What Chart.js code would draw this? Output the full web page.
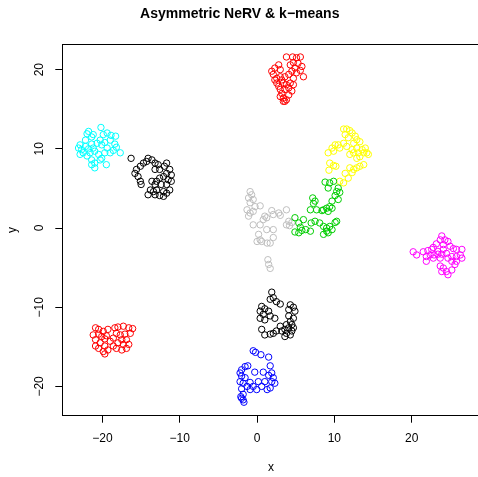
<!DOCTYPE html>
<html>
<head>
<meta charset="utf-8">
<script src="https://cdn.jsdelivr.net/npm/chart.js@4.4.1/dist/chart.umd.min.js"></script>
<style>
  html, body { margin: 0; padding: 0; overflow: hidden; background: #fff; }
  canvas { display: block; }
</style>
</head>
<body>
<canvas id="myChart" width="541" height="477"></canvas>
<script>
// tick labels on both axes
const xTicks = [-20, -10, 0, 10, 20];
const yTicks = [-20, -10, 0, 10, 20];

// k-means clusters, [x, y]
const blackTop = [[-16.3,8.8],[-14.1,8.8],[-13.6,8.6],[-14.3,8.4],[-14.7,8.2],[-13.2,8.2],[-15.1,7.8],[-15.6,7.4],[-15.8,6.9],[-15.4,6.5],[-15.1,5.9],[-15.0,5.5],[-12.8,8.0],[-11.7,8.2],[-12.0,7.8],[-12.6,7.4],[-13.2,7.4],[-11.3,7.4],[-11.7,6.9],[-11.1,6.7],[-12.1,6.5],[-11.5,6.1],[-11.1,5.9],[-12.6,6.3],[-13.6,5.9],[-13.0,5.9],[-13.2,5.5],[-12.4,5.5],[-11.7,5.5],[-11.3,4.8],[-13.8,4.8],[-13.4,4.6],[-13.0,4.8],[-12.1,4.6],[-14.1,4.2],[-13.2,4.2],[-12.6,4.1],[-11.7,4.4],[-12.1,4.0]];
const redTop = [[3.8,21.6],[4.6,21.6],[5.1,21.5],[5.6,21.6],[4.7,20.9],[5.3,20.8],[4.3,20.6],[5.8,20.4],[4.9,20.2],[5.6,19.9],[6.0,19.1],[5.1,19.6],[4.5,19.8],[4.1,19.4],[4.7,18.9],[4.3,18.3],[4.7,18.1],[3.8,18.1],[3.6,17.5],[4.5,17.3],[4.1,16.8],[3.8,16.2],[3.6,16.0],[3.4,16.4],[3.2,17.0],[3.0,17.5],[2.8,17.9],[2.55,18.3],[2.3,18.7],[2.1,19.4],[1.9,19.8],[2.3,20.2],[2.8,20.6],[3.0,20.0],[3.2,18.7],[3.4,18.3],[3.0,19.1],[2.55,18.9],[3.6,19.1],[4.1,17.7],[3.0,16.6],[3.4,16.0]];
const greenPts = [[8.8,5.8],[9.4,5.7],[9.9,5.9],[9.2,5.05],[10.5,5.05],[10.7,4.5],[10.3,4.6],[10.1,4.1],[10.5,3.6],[9.7,3.4],[9.4,2.7],[9.0,2.5],[8.6,2.3],[9.2,2.1],[9.7,2.5],[7.2,3.8],[7.5,3.4],[7.3,3.1],[6.9,2.3],[7.7,2.3],[8.4,2.2],[4.9,1.3],[5.4,0.64],[5.6,0.1],[5.8,-0.3],[6.3,-0.2],[6.9,-0.4],[7.0,0.64],[7.5,0.85],[8.1,0.64],[8.6,0.2],[9.0,0.0],[9.4,0.2],[10.1,0.7],[10.3,0.85],[9.7,-0.2],[9.2,-0.6],[8.6,-0.8],[9.0,-0.4],[5.4,-0.6],[4.9,-0.5],[6.0,1.06]];
const bluePts = [[-0.5,-15.5],[-0.2,-15.7],[0.5,-16.0],[1.5,-16.3],[1.7,-17.4],[-1.2,-17.4],[-1.55,-17.5],[-2.0,-17.9],[-2.2,-18.3],[-0.3,-18.2],[0.8,-18.2],[1.9,-18.3],[1.5,-18.6],[-2.0,-18.7],[-1.55,-18.9],[2.1,-18.9],[-2.2,-19.4],[-1.8,-19.6],[-0.9,-19.5],[0.17,-19.4],[1.0,-19.4],[1.9,-19.4],[2.3,-19.6],[-1.3,-20.0],[-0.5,-20.0],[0.6,-20.0],[1.3,-20.4],[1.7,-20.2],[-0.05,-20.4],[-0.9,-20.4],[-2.0,-20.3],[-1.8,-21.0],[-2.0,-21.5],[-1.8,-21.7],[-1.7,-22.0],[-2.1,-21.3]];
const cyanPts = [[-20.2,12.7],[-21.8,12.2],[-21.2,11.8],[-21.4,11.5],[-22.0,11.9],[-19.4,12.0],[-18.9,11.7],[-18.3,11.6],[-19.9,11.8],[-20.3,11.1],[-19.7,10.8],[-19.0,11.1],[-18.4,10.6],[-18.2,10.2],[-17.7,9.5],[-18.6,9.8],[-19.4,10.1],[-20.1,10.5],[-20.7,10.7],[-21.4,10.6],[-22.2,11.1],[-22.9,10.5],[-23.1,10.1],[-22.7,9.9],[-22.2,10.3],[-21.8,10.0],[-21.2,10.1],[-21.0,9.7],[-21.6,9.5],[-22.5,9.5],[-22.9,9.3],[-22.0,9.1],[-21.4,8.6],[-21.0,8.2],[-21.4,8.0],[-21.0,7.6],[-20.1,8.8],[-19.5,8.0],[-19.7,9.5],[-19.0,9.5],[-20.5,9.3],[-20.3,8.6]];
const magentaPts = [[23.9,-1.0],[23.7,-1.5],[24.3,-1.5],[24.7,-1.7],[23.2,-2.0],[24.1,-2.1],[24.97,-2.3],[25.4,-2.6],[25.8,-2.7],[26.5,-2.7],[22.8,-2.45],[22.6,-2.7],[22.1,-2.85],[21.5,-3.0],[20.2,-3.0],[20.65,-3.4],[21.9,-3.6],[22.4,-3.4],[22.9,-3.4],[23.4,-3.3],[23.9,-3.3],[24.5,-3.2],[25.2,-3.6],[25.8,-3.6],[26.5,-3.8],[26.3,-3.4],[21.9,-4.2],[22.8,-3.8],[23.7,-3.8],[24.7,-3.8],[25.2,-4.2],[25.8,-4.2],[25.6,-4.6],[23.7,-4.8],[24.1,-5.05],[23.9,-5.5],[24.5,-5.5],[24.7,-5.9],[25.2,-5.3],[23.4,-2.95],[24.1,-2.7]];
const yellowPts = [[11.2,12.5],[11.6,12.5],[12.0,12.3],[11.4,11.8],[12.3,12.0],[12.7,11.6],[11.8,11.4],[12.9,11.15],[13.3,10.9],[12.5,10.7],[11.2,10.7],[10.5,10.5],[10.1,10.5],[9.7,10.1],[9.2,9.5],[9.9,9.7],[10.7,10.1],[11.6,10.3],[12.3,9.9],[12.9,10.1],[13.6,9.9],[14.0,10.1],[14.2,9.5],[14.4,9.3],[13.8,9.5],[13.1,9.5],[12.5,9.5],[12.0,9.3],[12.9,8.8],[13.3,9.0],[13.8,8.0],[13.3,7.8],[12.9,7.6],[12.5,7.4],[12.0,7.6],[12.3,7.0],[11.4,6.9],[11.8,6.3],[11.2,5.7],[10.7,5.9],[9.4,8.2],[9.9,7.9],[9.3,7.3],[10.2,7.8]];
const grayPts = [[-0.9,4.6],[-0.7,4.2],[-1.1,3.8],[-0.5,3.6],[-0.9,3.2],[-0.26,2.7],[-1.3,2.3],[-0.9,1.9],[-0.5,2.1],[-1.1,1.5],[0.4,2.8],[1.0,1.5],[0.8,1.06],[1.25,1.3],[1.9,2.2],[2.1,1.7],[2.8,1.9],[3.0,1.6],[3.8,2.3],[4.1,0.85],[3.8,0.4],[4.5,0.7],[-0.5,0.4],[0.4,0.4],[1.25,-0.2],[2.1,-0.2],[0.2,-0.8],[0.4,-1.5],[0.0,-1.7],[0.6,-1.7],[1.3,-1.9],[1.7,-1.9],[2.1,-1.2],[4.2,0.3],[1.4,-4.0],[1.5,-4.6],[1.7,-5.1]];
const blackLow = [[1.9,-8.1],[2.1,-8.8],[1.7,-9.0],[2.5,-9.3],[3.0,-9.6],[4.3,-9.7],[4.7,-10.0],[4.1,-10.3],[4.9,-10.5],[0.6,-9.9],[1.0,-10.2],[0.4,-10.5],[1.5,-10.5],[0.8,-10.9],[1.7,-11.1],[0.4,-11.4],[1.0,-11.6],[2.3,-11.4],[4.1,-11.1],[4.7,-11.4],[4.3,-11.8],[3.8,-12.2],[4.5,-12.2],[4.1,-12.6],[4.7,-12.6],[3.6,-12.8],[3.2,-13.0],[2.5,-13.0],[2.1,-13.3],[1.7,-13.4],[1.0,-13.5],[0.6,-12.8],[3.8,-13.3],[4.3,-13.5],[3.6,-13.7],[4.5,-13.0],[3.0,-12.4]];
const redLow = [[-20.9,-12.6],[-20.5,-12.8],[-19.9,-13.05],[-19.3,-12.8],[-18.4,-12.6],[-18.0,-12.5],[-17.3,-12.4],[-16.6,-12.6],[-16.1,-12.7],[-21.2,-13.5],[-20.5,-13.4],[-20.1,-13.7],[-19.5,-13.6],[-18.2,-13.3],[-17.7,-13.5],[-17.1,-13.4],[-16.4,-13.3],[-20.9,-14.1],[-19.7,-14.0],[-18.6,-13.9],[-17.5,-14.1],[-16.9,-14.1],[-20.3,-14.5],[-19.0,-14.3],[-18.0,-14.5],[-17.3,-14.7],[-16.6,-14.7],[-20.9,-14.9],[-19.7,-14.9],[-18.6,-14.9],[-19.9,-15.6],[-19.3,-15.4],[-18.2,-15.2],[-17.5,-15.4],[-16.9,-15.2],[-20.5,-15.2],[-19.7,-15.9]];

const clusters = [blackTop, redTop, greenPts, bluePts, cyanPts, magentaPts, yellowPts, grayPts, blackLow, redLow];
const clusterColors = ['#000000', '#FF0000', '#00CD00', '#0000FF', '#00FFFF', '#FF00FF', '#FFFF00', '#BEBEBE', '#000000', '#FF0000'];

const font = 'Liberation Sans, Arial, Helvetica, sans-serif';
const minus = v => String(v).replace('-', '\u2212');

// R style box around the plot region
const boxPlugin = {
  id: 'box',
  beforeDatasetsDraw(chart) {
    const a = chart.chartArea;
    const c = chart.ctx;
    c.save();
    c.strokeStyle = '#000';
    c.lineWidth = 1;
    c.strokeRect(Math.round(a.left) + 0.5, Math.round(a.top) + 0.5, Math.round(a.right - a.left), Math.round(a.bottom - a.top));
    c.restore();
  }
};

new Chart(document.getElementById('myChart'), {
  type: 'scatter',
  data: {
    datasets: clusters.map((pts, i) => ({
      data: pts.map(p => ({ x: p[0], y: p[1] })),
      borderColor: clusterColors[i],
      backgroundColor: 'rgba(0,0,0,0)',
      pointRadius: 3.2,
      borderWidth: 1
    }))
  },
  options: {
    responsive: false,
    animation: false,
    layout: { padding: { left: 0, right: 61.5, top: 0, bottom: 0 } },
    plugins: {
      legend: { display: false },
      tooltip: { enabled: false },
      title: {
        display: true,
        text: 'Asymmetric NeRV & k\u2212means',
        color: '#000',
        font: { family: font, size: 14, weight: 'bold' },
        padding: { top: 6, bottom: 21.5 }
      }
    },
    scales: {
      x: {
        type: 'linear',
        min: -25.2,
        max: 28.78,
        afterBuildTicks: s => { s.ticks = xTicks.map(v => ({ value: v })); },
        afterFit: s => { s.height = 61.3; },
        grid: { drawOnChartArea: false, drawTicks: true, tickLength: 7, color: '#000' },
        border: { display: false },
        ticks: { color: '#000', font: { family: font, size: 12 }, padding: 9, maxRotation: 0, callback: minus },
        title: { display: true, text: 'x', color: '#000', font: { family: font, size: 12 }, padding: { top: 0, bottom: 2 } }
      },
      y: {
        type: 'linear',
        min: -23.7,
        max: 23.2,
        afterBuildTicks: s => { s.ticks = yTicks.map(v => ({ value: v })); },
        afterFit: s => { s.width = 62.3; },
        grid: { drawOnChartArea: false, drawTicks: true, tickLength: 7, color: '#000' },
        border: { display: false },
        ticks: { color: '#000', font: { family: font, size: 12 }, padding: 5, minRotation: 90, maxRotation: 90, crossAlign: 'center', callback: minus },
        title: { display: true, text: 'y', color: '#000', font: { family: font, size: 12 }, padding: { top: 5, bottom: 0 } }
      }
    }
  },
  plugins: [boxPlugin]
});
</script>
</body>
</html>
